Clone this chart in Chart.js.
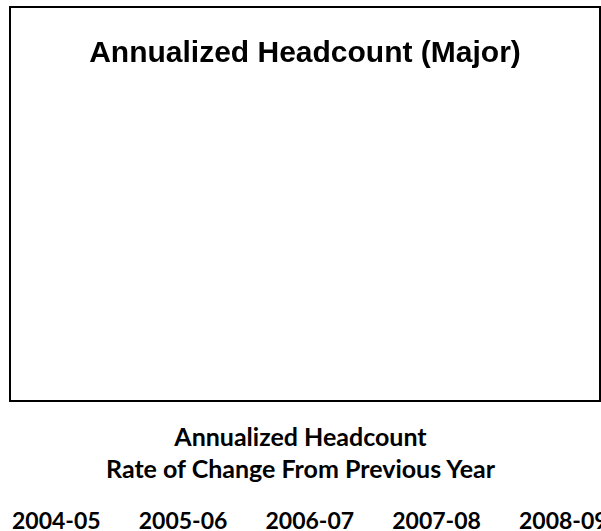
<!DOCTYPE html>
<html>
<head>
<meta charset="utf-8">
<script src="https://cdn.jsdelivr.net/npm/chart.js@4"></script>
<style>
  html, body { margin: 0; padding: 0; background: #fff; width: 601px; height: 531px; overflow: hidden; }
  #box { position: absolute; left: 9px; top: 6px; width: 592px; height: 396px; border: 2px solid #000; box-sizing: border-box; }
  #chart { display: block; }
  .sub { position: absolute; left: 0; width: 601px; text-align: center; font-family: Lato, "Open Sans", sans-serif; font-weight: bold; font-size: 25px; line-height: 30px; color: #000; white-space: nowrap; }
  #years { position: absolute; left: 0; top: 506px; white-space: nowrap; font-family: Lato, "Open Sans", sans-serif; font-weight: bold; font-size: 23px; color: #000; }
  #years span { position: absolute; top: 0; }
</style>
</head>
<body>
<div id="box"><canvas id="chart" width="588" height="392"></canvas></div>
<div class="sub" id="sub1" style="top:421px">Annualized Headcount</div>
<div class="sub" id="sub2" style="top:453px">Rate of Change From Previous Year</div>
<div id="years"></div>
<script>
// Data (the plot area shows no marks)
const chartTitle = "Annualized Headcount (Major)";
const categories = ["2004-05", "2005-06", "2006-07", "2007-08", "2008-09"];
const headcountValues = [];

const yearsEl = document.getElementById('years');
categories.forEach((c, i) => {
  const s = document.createElement('span');
  s.textContent = c;
  s.style.left = (12 + i * 126.75) + 'px';
  yearsEl.appendChild(s);
});

new Chart(document.getElementById('chart'), {
  type: 'bar',
  data: {
    labels: categories,
    datasets: [{ label: 'Headcount', data: headcountValues, backgroundColor: '#4F81BD' }]
  },
  options: {
    responsive: false,
    animation: false,
    layout: { padding: 0 },
    plugins: {
      legend: { display: false },
      tooltip: { enabled: false },
      title: {
        display: true,
        text: chartTitle,
        color: '#000',
        font: { family: '"Liberation Sans", Arial, sans-serif', size: 30, weight: 'bold', lineHeight: 1.2 },
        padding: { top: 28, bottom: 10 }
      }
    },
    scales: {
      x: { display: false },
      y: { display: false }
    }
  }
});
</script>
</body>
</html>
